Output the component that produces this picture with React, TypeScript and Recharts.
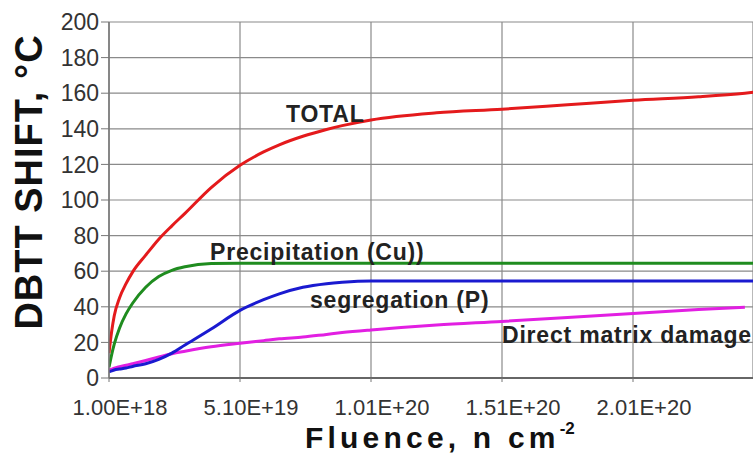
import React from "react";
import {
  LineChart,
  Line,
  XAxis,
  YAxis,
  CartesianGrid,
  ReferenceDot,
  Customized,
} from "recharts";

// Fluence in units of 1e18 n/cm2
const fluenceE18 = [1, 2, 3, 5, 7.5, 10, 15, 20, 25, 30, 40, 51, 60, 66, 75, 84, 90, 101, 126, 151, 176, 201, 226, 243.7, 247];
const total = [14, 26, 35, 45, 53, 59.5, 69, 78, 85.5, 92.5, 107, 119.5, 127, 131, 135.8, 139.6, 141.8, 145, 149, 151, 153.5, 156, 158, 160, 160.5];
const precipitation = [6, 13, 19, 28, 36, 42, 51, 57, 60.5, 62.5, 64.3, 64.5, 64.5, 64.5, 64.5, 64.5, 64.5, 64.5, 64.5, 64.5, 64.5, 64.5, 64.5, 64.5, 64.5];
const segregation = [3.5, 4, 4.5, 5, 5.6, 6.5, 8, 10.5, 14, 18.5, 27.5, 38, 44, 47.3, 51, 53, 53.8, 54.5, 54.5, 54.5, 54.5, 54.5, 54.5, 54.5, 54.5];
const matrixDamage: (number | null)[] = [4.5, 5, 5.5, 6.3, 7.2, 8, 9.8, 11.8, 13.6, 15, 17.5, 19.5, 21, 22, 23, 24.5, 25.5, 27, 29.8, 31.8, 34, 36.3, 38.5, 39.7, null];

const xTicks = [1e18, 5.1e19, 1.01e20, 1.51e20, 2.01e20];
const yTicks = [0, 20, 40, 60, 80, 100, 120, 140, 160, 180, 200];
const xDomain = [1e18, 2.468e20];

const seriesLabels = [
  { text: "TOTAL", x: 6.856e19, y: 144.1 },
  { text: "Precipitation (Cu))", x: 3.955e19, y: 66.3 },
  { text: "segregation (P)", x: 7.77e19, y: 39.2 },
  { text: "Direct matrix damage", x: 1.51e20, y: 19.4 },
];

const data = fluenceE18.map((f, i) => ({
  fluence: f * 1e18,
  total: total[i],
  precipitation: precipitation[i],
  segregation: segregation[i],
  matrix: matrixDamage[i],
}));

const FONT = "'Liberation Sans', Arial, Helvetica, sans-serif";

const fmt = (v: number) => v.toExponential(2).toUpperCase();

const XTick = (props: any) => {
  const { x, y, payload } = props;
  return (
    <text x={x + 11} y={y} dy="0.71em" textAnchor="middle" fontSize={22} fill="#333" fontFamily={FONT}>
      {fmt(payload.value)}
    </text>
  );
};

const makeLabel = (text: string) => (props: any) => {
  const vb = props.viewBox || {};
  const x = (vb.x ?? vb.cx ?? 0) + (vb.width || 0) / 2;
  const y = (vb.y ?? vb.cy ?? 0) + (vb.height || 0) / 2;
  return (
    <text x={x} y={y} fontSize={23} fontWeight="bold" fill="#222" fontFamily={FONT} letterSpacing={0.8}>
      {text}
    </text>
  );
};

const Titles = () => (
  <g fontFamily={FONT} fontWeight="bold" fill="#111">
    <text
      x={42}
      y={182}
      textAnchor="middle"
      fontSize={38}
      letterSpacing={1}
      transform="rotate(-90, 42, 182)"
    >
      DBTT SHIFT, °C
    </text>
    <text x={305} y={448} fontSize={30} letterSpacing={4.2}>
      Fluence, n cm
      <tspan fontSize={17} dy={-14} letterSpacing={0}>-2</tspan>
    </text>
  </g>
);

export default function App() {
  return (
    <div style={{ position: "absolute", left: 0, top: 0, width: 753, height: 455, background: "#fff" }}>
      <LineChart
        width={753}
        height={455}
        data={data}
        margin={{ top: 22, right: 0, bottom: 0, left: 0 }}
        style={{ fontFamily: FONT }}
      >
        <CartesianGrid stroke="#8a8a8a" strokeWidth={1.2} />
        <XAxis
          dataKey="fluence"
          type="number"
          scale="linear"
          domain={xDomain}
          ticks={xTicks}
          interval={0}
          allowDataOverflow
          height={77}
          tickSize={4}
          tickMargin={17}
          tick={<XTick />}
          axisLine={{ stroke: "#666", strokeWidth: 2.2 }}
          tickLine={{ stroke: "#777" }}
        />
        <YAxis
          type="number"
          domain={[0, 200]}
          ticks={yTicks}
          interval={0}
          width={109}
          tickSize={8}
          tickMargin={2}
          tick={{ fontSize: 23, fill: "#333", fontFamily: FONT }}
          axisLine={{ stroke: "#777", strokeWidth: 1.5 }}
          tickLine={{ stroke: "#777" }}
        />
        <Line dataKey="matrix" type="monotone" stroke="#e21fe2" strokeWidth={3} dot={false} isAnimationActive={false} />
        <Line dataKey="segregation" type="monotone" stroke="#1a1ad0" strokeWidth={3} dot={false} isAnimationActive={false} />
        <Line dataKey="precipitation" type="monotone" stroke="#1f8c1f" strokeWidth={3} dot={false} isAnimationActive={false} />
        <Line dataKey="total" type="monotone" stroke="#e41a1c" strokeWidth={3} dot={false} isAnimationActive={false} />
        {seriesLabels.map((l) => (
          <ReferenceDot
            key={l.text}
            x={l.x}
            y={l.y}
            r={0}
            fill="none"
            stroke="none"
            label={makeLabel(l.text)}
          />
        ))}
        <Customized component={Titles} />
      </LineChart>
    </div>
  );
}
